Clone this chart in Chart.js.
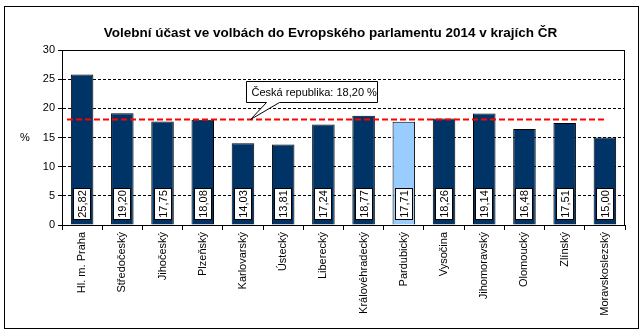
<!DOCTYPE html>
<html>
<head>
<meta charset="utf-8">
<script src="https://cdn.jsdelivr.net/npm/chart.js@4"></script>
<style>
  body { margin: 0; background: #fff; }
  #wrap { width: 644px; height: 335px; }
</style>
</head>
<body>
<div id="wrap"><canvas id="myChart" width="644" height="335"></canvas></div>
<script>
  const regions = ['Hl. m. Praha', 'Středočeský', 'Jihočeský', 'Plzeňský', 'Karlovarský', 'Ústecký',
    'Liberecký', 'Královéhradecký', 'Pardubický', 'Vysočina', 'Jihomoravský', 'Olomoucký', 'Zlínský',
    'Moravskoslezský'];
  const turnout = [25.82, 19.20, 17.75, 18.08, 14.03, 13.81, 17.24, 18.77, 17.71, 18.26, 19.14, 16.48, 17.51, 15.00];
  const highlighted = 'Pardubický';
  const czAverage = 18.20;
  const yTicks = [0, 5, 10, 15, 20, 25, 30];

  const fmt = v => v.toFixed(2).replace('.', ',');
  const font = '"Liberation Sans", Arial, sans-serif';

  // outer frame, plot frame, bar value boxes, average line and its callout
  const extras = {
    id: 'extras',
    beforeDraw(chart) {
      const c = chart.ctx;
      c.save();
      c.fillStyle = '#fff';
      c.fillRect(0, 0, chart.width, chart.height);
      c.strokeStyle = '#000';
      c.lineWidth = 1;
      c.strokeRect(4.5, 6.5, 634, 322);
      c.restore();
    },
    afterDatasetsDraw(chart) {
      const c = chart.ctx;
      const x = chart.scales.x, y = chart.scales.y;
      const area = chart.chartArea;
      c.save();

      // plot frame (solid top and right, solid y axis)
      c.strokeStyle = '#000';
      c.lineWidth = 1;
      const l = Math.round(area.left) + 0.5, r = Math.round(area.right) - 0.5;
      const t = Math.round(area.top) + 0.5, b = Math.round(area.bottom) + 0.5;
      c.beginPath();
      c.moveTo(l, b);
      c.lineTo(l, t);
      c.lineTo(r, t);
      c.lineTo(r, b);
      c.stroke();

      // value labels inside bars
      c.font = '11px ' + font;
      chart.getDatasetMeta(0).data.forEach((bar, i) => {
        const cy = y.bottom - 21;
        c.fillStyle = '#fff';
        c.strokeStyle = '#000';
        c.lineWidth = 1;
        c.fillRect(Math.round(bar.x) - 8.5, cy - 15.5, 17, 31);
        c.strokeRect(Math.round(bar.x) - 8.5, cy - 15.5, 17, 31);
        c.save();
        c.translate(bar.x + 1, cy);
        c.rotate(-Math.PI / 2);
        c.fillStyle = '#000';
        c.textAlign = 'center';
        c.textBaseline = 'middle';
        c.fillText(fmt(turnout[i]), 0, 0);
        c.restore();
      });

      // Czech republic average
      const ay = Math.round(y.getPixelForValue(czAverage)) + 0.5;
      c.strokeStyle = '#ff0000';
      c.lineWidth = 2;
      c.setLineDash([6, 3]);
      c.beginPath();
      c.moveTo(area.left + 5, ay);
      c.lineTo(x.getPixelForValue(regions.length - 1), ay);
      c.stroke();
      c.setLineDash([]);

      // callout
      const bx = 246.5, by = ay - 38, bw = 131, bh = 21;
      c.fillStyle = '#fff';
      c.strokeStyle = '#000';
      c.lineWidth = 1;
      c.beginPath();
      c.moveTo(bx, by);
      c.lineTo(bx + bw, by);
      c.lineTo(bx + bw, by + bh);
      c.lineTo(bx + 33, by + bh);
      c.lineTo(bx + 4, ay);
      c.lineTo(bx + 20, by + bh);
      c.lineTo(bx, by + bh);
      c.closePath();
      c.fill();
      c.stroke();
      c.fillStyle = '#000';
      c.textAlign = 'left';
      c.textBaseline = 'middle';
      c.fillText('Česká republika: ' + fmt(czAverage) + ' %', bx + 5, by + bh / 2 + 1);

      // y axis unit
      c.fillText('%', 20, y.getPixelForValue(15));
      c.restore();
    }
  };

  const ctx = document.getElementById('myChart');

  new Chart(ctx, {
    type: 'bar',
    data: {
      labels: regions,
      datasets: [{
        data: turnout,
        backgroundColor: regions.map(r => r === highlighted ? '#99ccff' : '#003366'),
        borderColor: '#000',
        borderWidth: 1,
        categoryPercentage: 1,
        barPercentage: 0.56
      }]
    },
    options: {
      responsive: false,
      animation: false,
      layout: { padding: { left: 36, right: 19, top: 0, bottom: 0 } },
      plugins: {
        legend: { display: false },
        tooltip: { enabled: false },
        title: {
          display: true,
          text: 'Volební účast ve volbách do Evropského parlamentu 2014 v krajích ČR',
          color: '#000',
          font: { family: font, size: 13.5, weight: 'bold' },
          padding: { top: 25, bottom: 9 }
        }
      },
      scales: {
        x: {
          afterFit: s => { s.height = 110; },
          grid: { drawOnChartArea: false, color: '#000', tickLength: 5, offset: true },
          border: { color: '#000', width: 1 },
          ticks: {
            color: '#000',
            font: { family: font, size: 11 },
            minRotation: 90,
            maxRotation: 90,
            autoSkip: false,
            padding: 2
          }
        },
        y: {
          min: 0,
          max: 30,
          afterFit: s => { s.width = 26; },
          afterBuildTicks: s => { s.ticks = yTicks.map(v => ({ value: v })); },
          grid: {
            color: '#000',
            lineWidth: 1,
            tickLength: 4,
            tickColor: '#000',
            tickBorderDash: [],
            drawTicks: true
          },
          border: { color: '#000', width: 1, dash: [3, 2] },
          ticks: {
            color: '#000',
            font: { family: font, size: 11 },
            padding: 3
          }
        }
      }
    },
    plugins: [extras]
  });
</script>
</body>
</html>
